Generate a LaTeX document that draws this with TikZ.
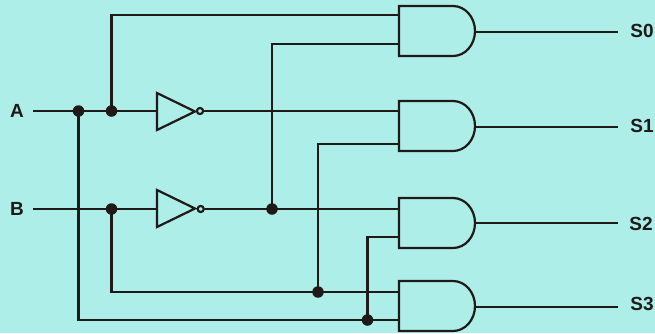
\documentclass[tikz,border=0pt]{standalone}
\usepackage{fontspec}
\setmainfont{Liberation Sans}
\definecolor{bgc}{HTML}{ADEEE9}
\definecolor{ink}{HTML}{1F1A17}
\tikzset{
  x=1pt,y=-1pt,
  wire/.style={draw=ink,line width=2.2pt},
  heavy/.style={draw=ink,line width=2.6pt,line cap=rect},
  outline/.style={draw=ink,line width=2.2pt},
  dot/.style={circle,fill=ink,inner sep=0pt,minimum size=11.5pt},
  bubble/.style={circle,draw=ink,fill=bgc,line width=2pt,inner sep=0pt,minimum size=6pt},
  lab/.style={font=\bfseries\fontsize{19}{19}\selectfont,text=ink,inner sep=0pt,anchor=center},
  pin/.style={coordinate}
}
\newcommand{\andshape}[2]{% name, top y
  \node[pin] (#1) at (399,#2) {};
  \path[outline] (399,#2) -- (453,#2) arc[start angle=-90,end angle=90,x radius=22,y radius=25] -- (399,#2+50) -- cycle;
}
\newcommand{\invshape}[3]{% name, top y, bottom y
  \path[outline] (157,#2) -- (195,#2/2+#3/2) -- (157,#3) -- cycle;
}
\begin{document}
\begin{tikzpicture}
\useasboundingbox (0,0) rectangle (655,333);
\fill[bgc] (0,0) rectangle (655,333);

% labels
\node[lab] (A) at (17,111) {A};
\node[lab] (B) at (17,208.5) {B};
\node[lab] (S0) at (642,31) {S0};
\node[lab] (S1) at (642,126) {S1};
\node[lab] (S2) at (641,224) {S2};
\node[lab] (S3) at (642,304) {S3};

% pins
\coordinate (Ain) at (33,111);
\coordinate (Bin) at (33,209);
\coordinate (g0a) at (399,15);
\coordinate (g0b) at (399,44);
\coordinate (g1a) at (399,111);
\coordinate (g1b) at (399,144);
\coordinate (g2a) at (399,209);
\coordinate (g2b) at (399,237);
\coordinate (g3a) at (399,292);
\coordinate (g3b) at (399,320);
\coordinate (g0o) at (475,32);
\coordinate (g1o) at (475,127);
\coordinate (g2o) at (475,223);
\coordinate (g3o) at (475,307);
\coordinate (o0) at (618,32);
\coordinate (o1) at (618,127);
\coordinate (o2) at (618,223);
\coordinate (o3) at (618,307);
\coordinate (ni1) at (157,111);
\coordinate (ni2) at (157,209);
\coordinate (c1) at (78.5,320);
\coordinate (c2) at (111.5,15);
\coordinate (c6) at (367.5,237);

% junctions
\node[dot] (j1) at (78.5,111) {};
\node[dot] (j2) at (111.5,111) {};
\node[dot] (j3) at (111.5,209) {};
\node[dot] (j4) at (272,209) {};
\node[dot] (j5) at (318,292) {};
\node[dot] (j6) at (367.5,320) {};
\node[bubble] (n1) at (200,111) {};
\node[bubble] (n2) at (200.7,209) {};

% wires
\draw[wire] (Ain) -- (ni1);
\draw[wire] (n1) -- (g1a);
\draw[wire] (Bin) -- (ni2);
\draw[wire] (n2) -- (g2a);
\draw[heavy] (j1.center) -- (c1);
\draw[wire] (c1) -- (g3b);
\draw[heavy] (j2.center) -- (c2);
\draw[wire] (c2) -- (g0a);
\draw[wire] (j3.center) |- (g3a);
\draw[wire] (j4.center) |- (g0b);
\draw[wire] (j5.center) |- (g1b);
\draw[heavy] (j6.center) -- (c6);
\draw[wire] (c6) -- (g2b);
\draw[wire] (g0o) -- (o0);
\draw[wire] (g1o) -- (o1);
\draw[wire] (g2o) -- (o2);
\draw[wire] (g3o) -- (o3);

% inverters
\invshape{i1}{93}{130}
\invshape{i2}{190}{227}
\node[bubble] at (n1) {};
\node[bubble] at (n2) {};

% gates
\andshape{g0}{6}
\andshape{g1}{101}
\andshape{g2}{198}
\andshape{g3}{281}
\end{tikzpicture}
\end{document}
